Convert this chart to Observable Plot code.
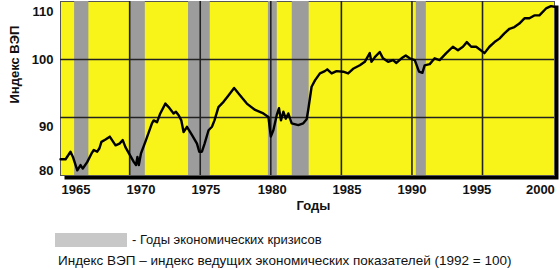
<!DOCTYPE html>
<html><head><meta charset="utf-8">
<script src="https://cdn.jsdelivr.net/npm/d3@7"></script>
<script src="https://cdn.jsdelivr.net/npm/@observablehq/plot@0.6"></script>
<style>
body{margin:0;background:#fff;font-family:"Liberation Sans",Arial,sans-serif;}
#chart{position:relative;width:560px;height:270px;overflow:hidden;}
#chart svg{position:absolute;left:0;top:0;}
.legend{position:absolute;left:55px;top:232px;display:flex;align-items:center;font-size:13px;color:#111;}
.sw{width:72px;height:14px;background:#c8c8c8;margin-right:5px;}
.caption{position:absolute;left:58px;top:253px;font-size:13.5px;color:#111;white-space:nowrap;}
</style></head><body>
<div id="chart"></div>
<script>
// Index values (year, index 1992 = 100)
const years = [1965.1,1965.46,1965.81,1965.98,1966.29,1966.52,1966.68,1966.99,1967.3,1967.46,1967.7,1967.86,1968.0,1968.29,1968.59,1969.0,1969.28,1969.51,1969.7,1969.98,1970.3,1970.45,1970.55,1970.65,1970.8,1971.11,1971.58,1971.7,1971.94,1972.17,1972.53,1972.76,1973.11,1973.28,1973.47,1973.66,1973.82,1974.06,1974.41,1974.77,1974.93,1975.12,1975.31,1975.59,1975.83,1976.01,1976.29,1976.65,1977.0,1977.4,1977.83,1978.3,1978.89,1979.47,1979.83,1980.0,1980.18,1980.42,1980.58,1980.72,1980.89,1981.06,1981.24,1981.48,1981.95,1982.3,1982.54,1982.65,1982.89,1983.13,1983.48,1983.83,1984.0,1984.31,1984.66,1985.13,1985.48,1985.83,1986.31,1986.66,1987.01,1987.13,1987.37,1987.72,1987.95,1988.31,1988.66,1988.9,1989.26,1989.56,1989.84,1990.2,1990.5,1990.74,1990.9,1991.26,1991.61,1991.96,1992.43,1992.9,1993.26,1993.61,1993.89,1994.2,1994.55,1995.14,1995.49,1995.85,1996.2,1996.55,1996.91,1997.26,1997.61,1997.97,1998.32,1998.67,1999.03,1999.5,1999.85,2000.1];
const values = [82.8,82.8,84.1,83.2,80.9,81.8,81.2,82.3,83.8,84.4,84.1,84.7,85.8,86.2,86.7,85.2,85.5,86.1,84.9,83.7,82.3,81.8,83.2,81.8,83.8,85.8,89.0,89.5,89.2,90.7,92.4,91.8,90.7,91.0,90.4,89.5,87.5,88.4,87.0,85.5,84.1,84.1,85.5,87.8,88.4,89.5,91.8,92.7,93.8,95.1,93.8,92.4,91.3,90.7,90.1,86.7,87.8,90.4,91.6,89.5,91.0,89.8,90.7,89.0,88.7,89.0,89.7,91.3,95.3,96.4,97.6,98.0,98.3,97.6,98.0,97.9,97.6,98.4,99.0,99.6,101.1,99.6,100.4,101.3,100.2,99.6,99.9,99.4,100.2,100.7,100.2,99.9,97.9,97.7,99.0,99.2,100.2,99.9,101.1,102.2,101.6,102.2,103.0,102.2,102.2,101.1,102.2,103.0,103.6,104.5,105.3,105.6,106.2,107.1,107.1,107.6,107.6,108.8,109.2,109.1];

// Crisis (recession) periods
const crisisStart = [1966.1, 1970.05, 1974.17, 1979.83, 1981.52, 1990.31];
const crisisEnd   = [1967.11, 1971.11, 1975.71, 1980.46, 1982.72, 1991.02];

// Grid and tick labels
const gridYears = [1970, 1975, 1980, 1985, 1990, 1995];
const gridValues = [90, 100];
const xTickLabels = ["1965","1970","1975","1980","1985","1990","1995","2000"];
const xTickAt = [1966.2, 1970.8, 1975.4, 1980.1, 1985.4, 1990.0, 1994.6, 1999.1];
const yTickLabels = ["110","100","90","80"];
const yTickAt = [108.2, 100, 88.4, 80.8];

const series = years.map((y, i) => ({year: y, value: values[i]}));
const crises = crisisStart.map((s, i) => ({start: s, end: crisisEnd[i]}));
const bold = {fontWeight: "bold", fontSize: 13, fill: "#111", fontFamily: "Liberation Sans, Arial, sans-serif"};

const plot = Plot.plot({
  width: 560,
  height: 222,
  marginLeft: 60,
  marginRight: 6,
  marginTop: 1,
  marginBottom: 47,
  x: {domain: [1965.1, 2000.1], axis: null},
  y: {domain: [80, 110], axis: null},
  style: {background: "transparent", overflow: "visible"},
  marks: [
    Plot.frame({fill: "#000", dx: 4, dy: 4}),
    Plot.frame({fill: "#f8f41a", stroke: "#555", strokeWidth: 1}),
    Plot.rect(crises, {x1: "start", x2: "end", fill: "#9c9c9c"}),
    Plot.ruleX(gridYears, {stroke: "#222", strokeWidth: 1.6}),
    Plot.ruleY(gridValues, {stroke: "#222", strokeWidth: 1.6}),
    Plot.line(series, {x: "year", y: "value", stroke: "#000", strokeWidth: 2.4, strokeLinejoin: "round"}),
    Plot.text(xTickAt, {x: d => d, text: (d, i) => xTickLabels[i], frameAnchor: "bottom", dy: 18, ...bold}),
    Plot.text(yTickAt, {y: d => d, text: (d, i) => yTickLabels[i], frameAnchor: "left", textAnchor: "end", dx: -7, ...bold}),
    Plot.text(["Годы"], {text: d => d, frameAnchor: "bottom", dx: 6, dy: 34, ...bold}),
    Plot.text(["Индекс ВЭП"], {text: d => d, frameAnchor: "left", rotate: -90, dx: -46, dy: 15, ...bold})
  ]
});
const chart = document.getElementById("chart");
chart.appendChild(plot);
const lg = document.createElement("div");
lg.className = "legend";
lg.innerHTML = '<div class="sw"></div><span>- Годы экономических кризисов</span>';
chart.appendChild(lg);
const cap = document.createElement("div");
cap.className = "caption";
cap.textContent = "Индекс ВЭП – индекс ведущих экономических показателей (1992 = 100)";
chart.appendChild(cap);
</script>
</body></html>
